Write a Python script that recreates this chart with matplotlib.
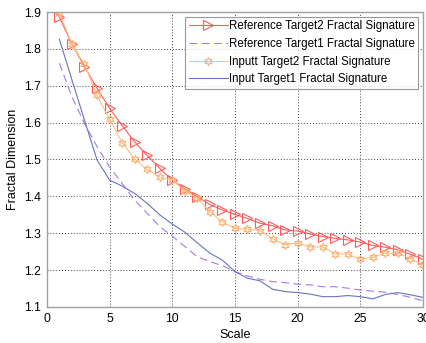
import numpy as np
import matplotlib
matplotlib.use("Agg")
import matplotlib.pyplot as plt

plt.rcParams['font.family'] = ['Liberation Sans', 'DejaVu Sans']

scale = np.arange(1, 31)

ref_t2 = [1.886, 1.813, 1.752, 1.693, 1.639, 1.592, 1.548, 1.511, 1.476, 1.444,
          1.421, 1.399, 1.378, 1.363, 1.351, 1.340, 1.327, 1.320, 1.309, 1.306,
          1.298, 1.291, 1.286, 1.282, 1.276, 1.267, 1.262, 1.255, 1.243, 1.229]
ref_t1 = [1.761, 1.670, 1.598, 1.535, 1.480, 1.435, 1.390, 1.354, 1.318, 1.292,
          1.264, 1.236, 1.223, 1.212, 1.196, 1.184, 1.175, 1.169, 1.166, 1.162,
          1.160, 1.155, 1.155, 1.151, 1.146, 1.143, 1.140, 1.134, 1.126, 1.117]
inp_t2 = [1.898, 1.812, 1.758, 1.674, 1.609, 1.546, 1.501, 1.473, 1.452, 1.445,
          1.415, 1.395, 1.358, 1.331, 1.313, 1.311, 1.307, 1.285, 1.269, 1.274,
          1.263, 1.263, 1.244, 1.244, 1.229, 1.235, 1.246, 1.246, 1.231, 1.214]
inp_t1 = [1.826, 1.716, 1.607, 1.499, 1.444, 1.428, 1.408, 1.381, 1.350, 1.325,
          1.303, 1.274, 1.246, 1.227, 1.196, 1.178, 1.171, 1.148, 1.142, 1.139,
          1.135, 1.128, 1.128, 1.131, 1.128, 1.122, 1.134, 1.139, 1.133, 1.126]

fig = plt.figure(figsize=(4.26, 3.43), dpi=100)
ax = fig.add_axes([0.110, 0.105, 0.883, 0.860])

ax.plot(scale, ref_t2, color='#ff5a5a', lw=0.8, marker='>', ms=7,
        mfc='none', mec='#ff5a5a', mew=0.8, label='Reference Target2 Fractal Signature')
ax.plot(scale, ref_t1, color='#a878f0', lw=0.8, ls=(0, (7, 4)),
        label='Reference Target1 Fractal Signature')
ax.plot(scale, inp_t2, color='#ffc080', lw=0.8, marker=(6, 1, 0), ms=6,
        mfc='none', mec='#ffb070', mew=0.8, label='Inputt Target2 Fractal Signature')
ax.plot(scale, inp_t1, color='#6874c0', lw=0.8, label='Input Target1 Fractal Signature')

ax.set_xlim(0, 30)
ax.set_ylim(1.1, 1.9)
ax.set_xticks(np.arange(0, 31, 5))
ax.set_yticks(np.arange(1.1, 1.91, 0.1))
ax.grid(True, color='#404040', ls=(0, (1, 2)), lw=0.7)
ax.tick_params(labelsize=8.8, length=0, pad=4)
for s in ax.spines.values():
    s.set_color('#a0a0a0')
    s.set_linewidth(1.0)

ax.set_xlabel('Scale', fontsize=9, labelpad=3)
ax.set_ylabel('Fractal Dimension', fontsize=9, labelpad=4)

leg = ax.legend(loc='upper right', fontsize=8.3, frameon=True, fancybox=False,
                edgecolor='#808080', handlelength=3.4, borderpad=0.3,
                labelspacing=0.5, handletextpad=0.1, borderaxespad=0.4)
leg.get_frame().set_linewidth(0.8)

fig.savefig('out.png', dpi=100)
